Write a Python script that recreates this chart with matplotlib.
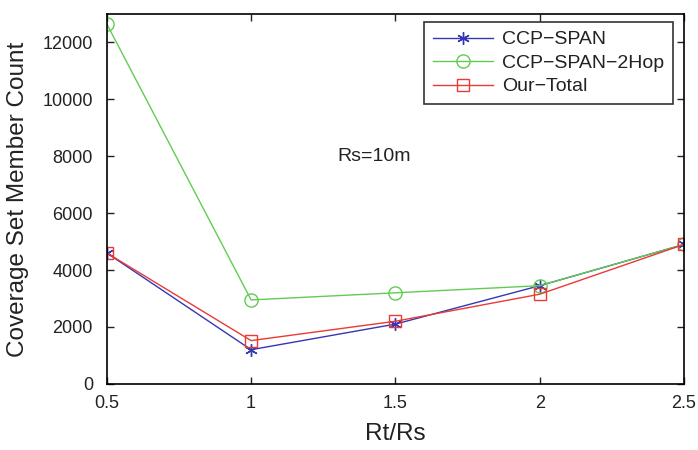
import matplotlib
matplotlib.use("Agg")
import matplotlib.pyplot as plt

x = [0.5, 1.0, 1.5, 2.0, 2.5]
ccp_span = [4600, 1200, 2100, 3450, 4900]
ccp_span_2hop = [12650, 2950, 3200, 3450, 4900]
our_total = [4600, 1520, 2200, 3150, 4900]
labels = ["CCP\u2212SPAN", "CCP\u2212SPAN\u22122Hop", "Our\u2212Total"]

plt.rcParams['font.family'] = ['Liberation Sans', 'DejaVu Sans']

fig = plt.figure(figsize=(6.98, 4.5), dpi=100)
ax = fig.add_axes([0.153, 0.147, 0.827, 0.822])

blue = '#3438b4'
green = '#62cc52'
red = '#ea3a36'
ax.plot(x, ccp_span, color=blue, marker=(6, 2, 0), markersize=9,
        markeredgecolor=blue, markeredgewidth=1, linewidth=1, label=labels[0])
ax.plot(x, ccp_span_2hop, color=green, marker='o', markersize=9.5, markerfacecolor='none',
        markeredgecolor=green, markeredgewidth=1, linewidth=1, label=labels[1])
ax.plot(x, our_total, color=red, marker='s', markersize=8, markerfacecolor='none',
        markeredgecolor=red, markeredgewidth=1, linewidth=1, label=labels[2])

ax.set_xlim(0.5, 2.5)
ax.set_ylim(0, 13000)
ax.set_xticks([0.5, 1, 1.5, 2, 2.5])
ax.set_xticklabels(['0.5', '1', '1.5', '2', '2.5'])
ax.set_yticks([0, 2000, 4000, 6000, 8000, 10000, 12000])
ax.tick_params(direction='in', top=True, right=True, labelsize=13, length=5, width=1,
               colors='#222222')
ax.tick_params(axis='x', pad=8)
ax.tick_params(axis='y', pad=10)
for s in ax.spines.values():
    s.set_linewidth(1.2)

ax.set_xlabel('Rt/Rs', fontsize=17.5, color='#222222')
ax.set_ylabel('Coverage Set Member Count', fontsize=17.5, color='#222222')
ax.xaxis.set_label_coords(0.5, -0.106)
ax.yaxis.set_label_coords(-0.135, 0.5)
ax.text(1.30, 8000, 'Rs=10m', fontsize=14, va='center', ha='left', color='#222222')

leg = ax.legend(loc='upper right', bbox_to_anchor=(0.981, 0.978), fontsize=14, frameon=True,
                fancybox=False, edgecolor='black', handlelength=3.1, borderpad=0.45,
                labelspacing=0.3, handletextpad=0.45, borderaxespad=0)
leg.get_frame().set_linewidth(1.2)
for t in leg.get_texts():
    t.set_color('#222222')

fig.savefig('out.png', dpi=100)
